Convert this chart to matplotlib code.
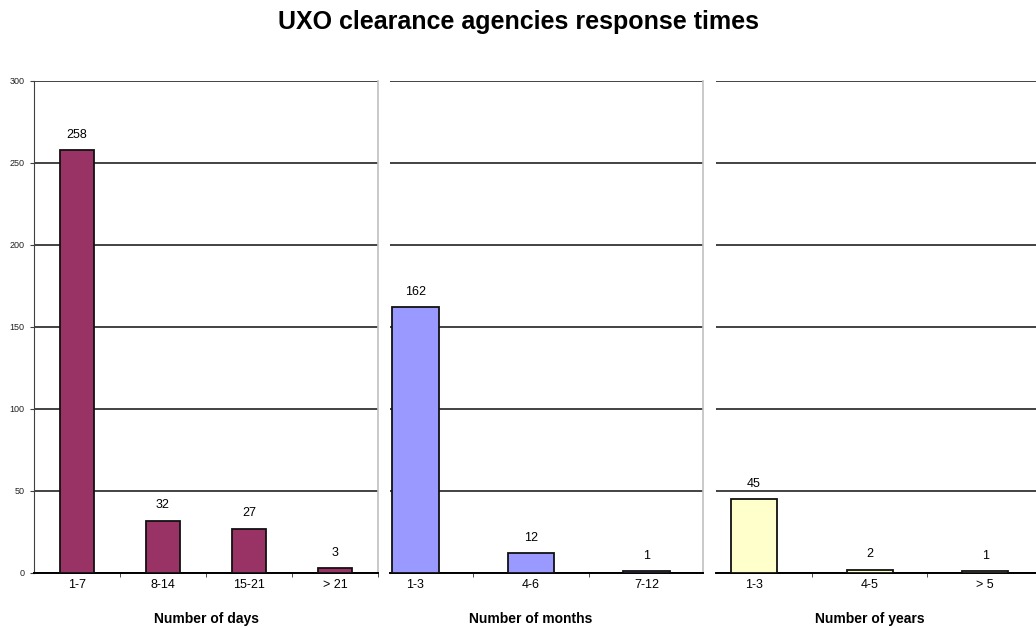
import matplotlib
matplotlib.use('Agg')
import matplotlib.pyplot as plt

plt.rcParams['font.family'] = ['Liberation Sans', 'DejaVu Sans']

TITLE = "UXO clearance agencies response times"

day_cats = ['1-7', '8-14', '15-21', '> 21']
day_vals = [258, 32, 27, 3]

month_cats = ['1-3', '4-6', '7-12']
month_vals = [162, 12, 1]

year_cats = ['1-3', '4-5', '> 5']
year_vals = [45, 2, 1]

y_ticks = [0, 50, 100, 150, 200, 250, 300]

W, H = 1036, 628


def fx(px):
    return px / W


def fy(py):
    return 1 - py / H


# panel layout in pixels: (left, right, xlim_lo, xlim_hi)
y_top, y_bot = 81, 573
panels = [
    (day_cats, day_vals, '#993366', 'Number of days', 34, 378, -0.5, 3.5),
    (month_cats, month_vals, '#9999FF', 'Number of months', 390, 703, -0.22, 2.49),
    (year_cats, year_vals, '#FFFFCC', 'Number of years', 716, 1036, -0.33, 2.44),
]

fig = plt.figure(figsize=(W / 100, H / 100), dpi=100)
fig.text(0.5, fy(22), TITLE, ha='center', va='center', fontsize=18,
         fontweight='bold')

for i, (cats, vals, color, xlabel, left, right, lo, hi) in enumerate(panels):
    ax = fig.add_axes([fx(left), fy(y_bot), fx(right - left), fy(y_top) - fy(y_bot)])
    xs = list(range(len(cats)))
    ax.bar(xs, vals, width=0.4, color=color, edgecolor='#111111',
           linewidth=1.3, zorder=3)
    for x, v in zip(xs, vals):
        ax.annotate(str(v), (x, v), xytext=(0, 11), textcoords='offset points',
                    ha='center', va='center', fontsize=9)

    ax.set_xlim(lo, hi)
    ax.set_ylim(0, 300)
    ax.set_yticks(y_ticks)
    ax.yaxis.grid(True, color='#222222', linewidth=1.2, zorder=0)
    ax.set_axisbelow(True)

    ax.set_xticks(xs)
    ax.set_xticklabels(cats, fontsize=9)
    ax.tick_params(axis='x', which='major', length=0, pad=4)
    bounds = [b + 0.5 for b in range(-1, len(cats))]
    ax.set_xticks([b for b in bounds if lo < b <= hi], minor=True)
    ax.tick_params(axis='x', which='minor', length=3, direction='out',
                   color='#303030')

    ax.spines['top'].set_visible(False)
    ax.spines['bottom'].set_color('black')
    ax.spines['bottom'].set_linewidth(1.4)
    ax.spines['right'].set_color('#c0c0c0')
    ax.spines['right'].set_linewidth(1.2)
    if i == 0:
        ax.spines['left'].set_color('#404040')
        ax.tick_params(axis='y', length=3, pad=4, labelsize=6.5,
                       color='#404040', labelcolor='#222222')
    else:
        ax.spines['left'].set_visible(False)
        ax.tick_params(axis='y', left=False, labelleft=False)
    if i == 2:
        ax.spines['right'].set_visible(False)

    ax.set_xlabel(xlabel, fontsize=10, fontweight='bold')
    ax.xaxis.set_label_coords((1 - lo) / (hi - lo) if len(cats) == 3 else 0.5,
                              -46 / (y_bot - y_top))
    ax.xaxis.label.set_va('center')

fig.savefig('out.png', dpi=100, facecolor='white')
